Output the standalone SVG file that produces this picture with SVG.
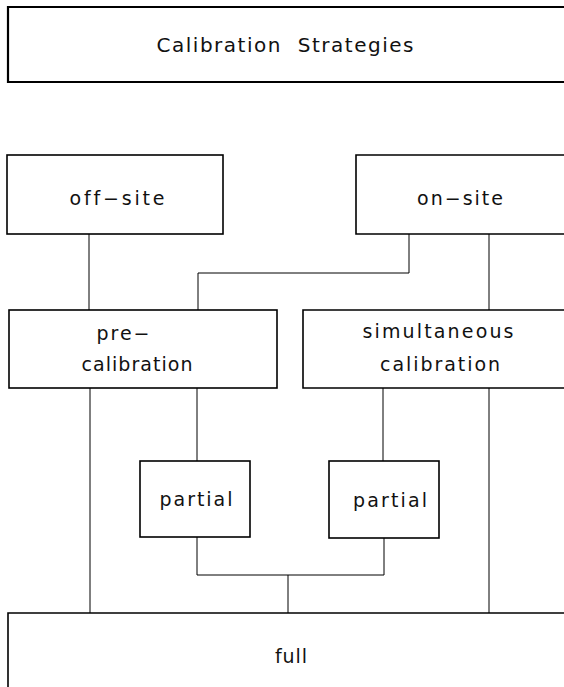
<svg xmlns="http://www.w3.org/2000/svg" width="564" height="687" viewBox="0 0 564 687">
<style>
.box{fill:none;stroke:#000;stroke-width:1.6}
.tbox{fill:none;stroke:#000;stroke-width:2.2}
.con{fill:none;stroke:#000;stroke-width:1}
text{font-family:"DejaVu Sans","Noto Sans",sans-serif;font-size:19px;fill:#111;text-anchor:middle;font-variant-ligatures:none}
.title{font-size:20px}
</style>
<rect width="564" height="687" fill="#fff"/>
<g id="title">
<path class="tbox" d="M564,7 H8 V82 H564"/>
<text class="title" x="285" y="52" textLength="257" lengthAdjust="spacing" xml:space="preserve">Calibration  Strategies</text>
</g>
<g id="offsite">
<rect class="box" x="7" y="155" width="216" height="79"/>
<text x="117" y="205" textLength="95" lengthAdjust="spacing">off−site</text>
</g>
<g id="onsite">
<path class="box" d="M564,155 H356 V234 H564"/>
<text x="460" y="205" textLength="86" lengthAdjust="spacing">on−site</text>
</g>
<g id="precalibration">
<rect class="box" x="9" y="310" width="268" height="78"/>
<text x="123" y="340" textLength="53" lengthAdjust="spacing">pre−</text>
<text x="137" y="371" textLength="111" lengthAdjust="spacing">calibration</text>
</g>
<g id="simultaneous">
<path class="box" d="M564,310 H303 V388 H564"/>
<text x="438" y="338" textLength="151" lengthAdjust="spacing">simultaneous</text>
<text x="440" y="371" textLength="120" lengthAdjust="spacing">calibration</text>
</g>
<g id="partial1">
<rect class="box" x="140" y="461" width="110" height="76"/>
<text x="196" y="506" textLength="73" lengthAdjust="spacing">partial</text>
</g>
<g id="partial2">
<rect class="box" x="329" y="461" width="110" height="77"/>
<text x="390" y="507" textLength="74" lengthAdjust="spacing">partial</text>
</g>
<g id="full">
<path class="box" d="M8,687 V613 H564"/>
<text x="291" y="663" textLength="32" lengthAdjust="spacing">full</text>
</g>
<g id="connectors">
<path class="con" d="M89,234 V310"/>
<path class="con" d="M409,234 V273 H198 V310"/>
<path class="con" d="M489,234 V310"/>
<path class="con" d="M90,388 V613"/>
<path class="con" d="M197,388 V461"/>
<path class="con" d="M383,388 V461"/>
<path class="con" d="M489,388 V613"/>
<path class="con" d="M197,537 V575 H384 V538"/>
<path class="con" d="M288,575 V613"/>
</g>
</svg>
